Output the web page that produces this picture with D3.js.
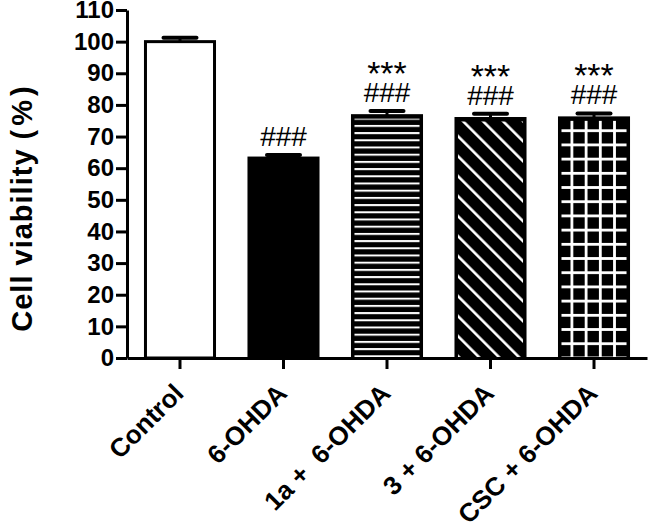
<!DOCTYPE html>
<html>
<head>
<meta charset="utf-8">
<script src="https://cdn.jsdelivr.net/npm/d3@7"></script>
<style>
  body { margin: 0; background: #fff; }
  svg { display: block; font-family: "Liberation Sans", Arial, sans-serif; }
</style>
</head>
<body>
<svg id="chart" width="648" height="522"></svg>
<script>
// data
var groups = ["Control", "6-OHDA", "1a +  6-OHDA", "3 + 6-OHDA", "CSC + 6-OHDA"];
var means = [100, 63.2, 76.6, 75.7, 75.9];
var sems = [1.2, 1.0, 1.5, 1.5, 1.4];
var hashMarks = ["", "###", "###", "###", "###"];
var starMarks = ["", "", "***", "***", "***"];
var yTicks = [0, 10, 20, 30, 40, 50, 60, 70, 80, 90, 100, 110];

var svg = d3.select("#chart");

// fill style per bar (by index)
var barFill = ["white", "black", "url(#hlines)", "url(#diag)", "url(#grid)"];

var x = d3.scaleBand().domain(groups).range([127, 647]).paddingInner(0.304).paddingOuter(0.164);
var y = d3.scaleLinear().domain([0, 110]).range([358, 10]);

//patterns
var defs = svg.append("defs");

var hl = defs.append("pattern").attr("id", "hlines")
    .attr("patternUnits", "userSpaceOnUse")
    .attr("width", 10).attr("height", 7.2).attr("y", 2.5);
hl.append("rect").attr("width", 10).attr("height", 7.2).attr("fill", "black");
hl.append("rect").attr("width", 10).attr("height", 2).attr("fill", "white");

var dg = defs.append("pattern").attr("id", "diag")
    .attr("patternUnits", "userSpaceOnUse")
    .attr("width", 14.14).attr("height", 14.14)
    .attr("patternTransform", "rotate(-45)");
dg.append("rect").attr("width", 14.14).attr("height", 14.14).attr("fill", "black");
dg.append("rect").attr("width", 2.6).attr("height", 14.14).attr("fill", "white");

var gr = defs.append("pattern").attr("id", "grid")
    .attr("patternUnits", "userSpaceOnUse")
    .attr("width", 14.2).attr("height", 14.2).attr("x", 570.5).attr("y", 1.5);
gr.append("rect").attr("width", 14.2).attr("height", 14.2).attr("fill", "black");
gr.append("rect").attr("width", 2.8).attr("height", 14.2).attr("fill", "white");
gr.append("rect").attr("width", 14.2).attr("height", 2.8).attr("fill", "white");

// bars
var bars = svg.append("g").selectAll("g").data(groups).enter().append("g");

bars.append("rect")
    .attr("x", function (d) { return x(d) + 1.5; })
    .attr("y", function (d, i) { return y(means[i]); })
    .attr("width", x.bandwidth() - 3)
    .attr("height", function (d, i) { return y(0) - y(means[i]); })
    .attr("fill", function (d, i) { return i < 2 ? barFill[i] : "black"; })
    .attr("stroke", "black")
    .attr("stroke-width", 3);

bars.filter(function (d, i) { return i >= 2; }).append("rect")
    .attr("x", function (d) { return x(d) + 3.5; })
    .attr("y", function (d) { var i = groups.indexOf(d); return y(means[i]) + 3; })
    .attr("width", x.bandwidth() - 7)
    .attr("height", function (d) { var i = groups.indexOf(d); return y(0) - y(means[i]) - 4; })
    .attr("fill", function (d) { return barFill[groups.indexOf(d)]; });

// error bars
bars.append("line")
    .attr("x1", function (d) { return x(d) + x.bandwidth() / 2; })
    .attr("x2", function (d) { return x(d) + x.bandwidth() / 2; })
    .attr("y1", function (d, i) { return y(means[i]); })
    .attr("y2", function (d, i) { return y(means[i] + sems[i]); })
    .attr("stroke", "black").attr("stroke-width", 3);
bars.append("line")
    .attr("x1", function (d) { return x(d) + x.bandwidth() / 2 - 16.5; })
    .attr("x2", function (d) { return x(d) + x.bandwidth() / 2 + 16.5; })
    .attr("y1", function (d, i) { return y(means[i] + sems[i]); })
    .attr("y2", function (d, i) { return y(means[i] + sems[i]); })
    .attr("stroke", "black").attr("stroke-width", 4)
    .attr("stroke-linecap", "round");

// significance marks
bars.append("text")
    .attr("x", function (d) { return x(d) + x.bandwidth() / 2; })
    .attr("y", function (d, i) { return y(means[i] + sems[i]) - 9; })
    .attr("text-anchor", "middle")
    .attr("font-size", 28)
    .text(function (d, i) { return hashMarks[i]; });
bars.append("text")
    .attr("x", function (d) { return x(d) + x.bandwidth() / 2; })
    .attr("y", function (d, i) { return y(means[i] + sems[i]) - 9 - 17; })
    .attr("text-anchor", "middle")
    .attr("font-size", 34)
    .text(function (d, i) { return starMarks[i]; });

// axes
var yAxis = svg.append("g").attr("transform", "translate(127,0)")
    .call(d3.axisLeft(y).tickValues(yTicks).tickSize(11).tickSizeOuter(0).tickPadding(2));
var xAxis = svg.append("g").attr("transform", "translate(0,358)")
    .call(d3.axisBottom(x).tickSize(11).tickSizeOuter(0));

[yAxis, xAxis].forEach(function (ax) {
    ax.select(".domain").attr("stroke-width", 3);
    ax.selectAll(".tick line").attr("stroke-width", 3);
    ax.selectAll("text").attr("font-family", "Liberation Sans, Arial, sans-serif")
        .attr("font-weight", "bold").attr("font-size", 24).attr("fill", "black");
});

xAxis.selectAll(".tick text")
    .style("white-space", "pre")
    .attr("font-size", 26)
    .attr("text-anchor", "end")
    .attr("dy", null)
    .attr("y", 0)
    .attr("transform", "translate(5,37) rotate(-45)");

var title = svg.append("text")
    .attr("transform", "translate(32,207) rotate(-90)")
    .attr("text-anchor", "middle")
    .attr("font-weight", "bold")
    .attr("font-size", 29)
    .attr("letter-spacing", 1);
title.append("tspan").text("Cell viability ");
title.append("tspan").attr("letter-spacing", 4).text("(%)");
</script>
</body>
</html>
